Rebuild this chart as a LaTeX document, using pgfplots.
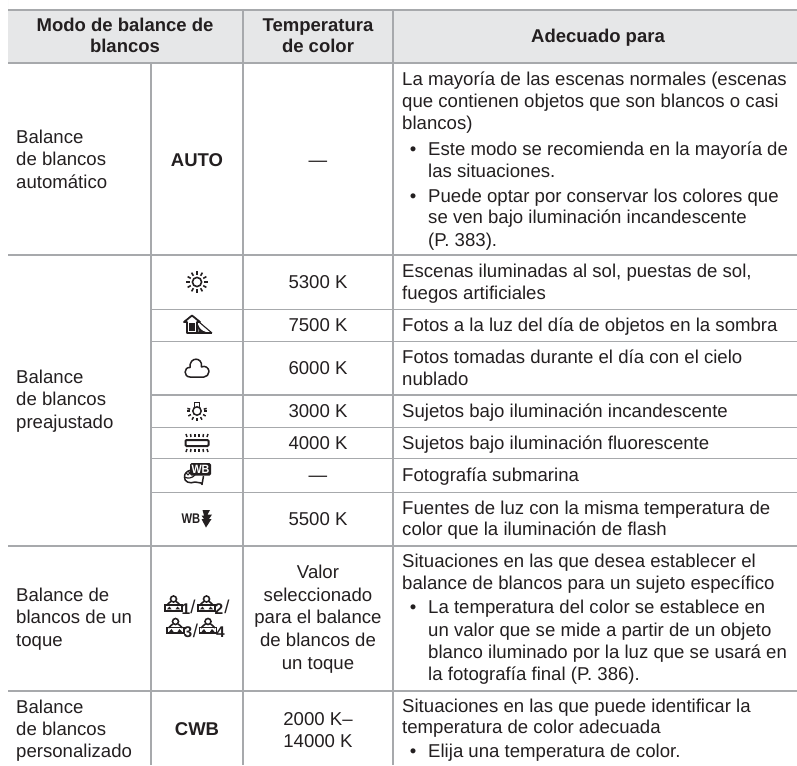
\documentclass[border=0pt]{standalone}
\usepackage{pgfplots}
\pgfplotsset{compat=1.18}
\usepackage{fontspec}
\setmainfont{Liberation Sans}
\definecolor{tx}{HTML}{231F20}
\definecolor{gl}{HTML}{A7A9AC}
\definecolor{hd}{HTML}{E6E7E8}
\newcommand\fn{\fontsize{18.6}{22}\selectfont}
\newcommand\fb{\fontsize{18.5}{22}\selectfont\bfseries}
\newcommand\TL[3]{\node[anchor=base west,inner sep=0pt,text=tx,font=\fn] at (axis cs:#1,#2) {#3};}
\newcommand\TC[3]{\node[anchor=base,inner sep=0pt,text=tx,font=\fn] at (axis cs:#1,#2) {#3};}
\newcommand\TB[3]{\node[anchor=base,inner sep=0pt,text=tx,font=\fb] at (axis cs:#1,#2) {#3};}
\newcommand\Bul[2]{\node[anchor=base,inner sep=0pt,text=tx,font=\fn] at (axis cs:413,#1) {•};\TL{428}{#1}{#2}}
\pgfplotsset{rule/.style={gl,line width=1.5pt,forget plot}}
\newcommand\OneTouch[3]{%
 \begin{scope}[shift={(axis cs:#1,#2)},x=1pt,y=-1pt]
  \draw[tx,line width=1.6pt] (0,-9.5) circle (3);
  \draw[tx,line width=1.6pt] (-7,-3) .. controls (-6,-6) and (-3,-5.5) .. (-2.5,-7);
  \draw[tx,line width=1.6pt] (7,-3) .. controls (6,-6) and (3,-5.5) .. (2.5,-7);
  \draw[tx,line width=1.7pt] (-8.5,-3.5) rectangle (8.5,2.2);
  \fill[tx] (-6.5,0.8) -- (-2,0.8) -- (-4,-2) -- cycle;
  \fill[tx] (6.5,0.8) -- (2,0.8) -- (4,-2) -- cycle;
  \node[inner sep=0pt,text=tx,font=\fontsize{15.5}{15.5}\selectfont\bfseries] at (12.5,1) {#3};
 \end{scope}}
\begin{document}
\begin{tikzpicture}
\useasboundingbox (0,0) rectangle (797pt,765pt);
\begin{axis}[scale only axis,width=797pt,height=765pt,xmin=0,xmax=797,ymin=0,ymax=765,
  y dir=reverse,axis lines=none,clip=false]
\addplot[draw=none,fill=hd,forget plot] coordinates {(8,10) (797,10) (797,63) (8,63)} \closedcycle;
% horizontal rules
\addplot[rule] coordinates {(8,10) (797,10)};
\addplot[rule] coordinates {(8,63) (797,63)};
\addplot[rule] coordinates {(8,255) (797,255)};
\addplot[rule,line width=1pt] coordinates {(151,309) (797,309)};
\addplot[rule,line width=1pt] coordinates {(151,341) (797,341)};
\addplot[rule] coordinates {(151,395) (797,395)};
\addplot[rule,line width=1pt] coordinates {(151,427) (797,427)};
\addplot[rule,line width=1pt] coordinates {(151,458) (797,458)};
\addplot[rule,line width=1pt] coordinates {(151,492) (797,492)};
\addplot[rule] coordinates {(8,546) (797,546)};
\addplot[rule] coordinates {(8,691) (797,691)};
% vertical rules
\addplot[rule] coordinates {(151,63) (151,765)};
\addplot[rule] coordinates {(243,10) (243,765)};
\addplot[rule] coordinates {(393,10) (393,765)};
% header
\TB{125}{32}{Modo de balance de}
\TB{125}{53}{blancos}
\TB{318}{32}{Temperatura}
\TB{318}{53}{de color}
\TB{598}{43}{Adecuado para}
% column 1
\TL{16}{143}{Balance}
\TL{16}{165.5}{de blancos}
\TL{16}{188}{automático}
\TL{16}{383}{Balance}
\TL{16}{405.5}{de blancos}
\TL{16}{428}{preajustado}
\TL{16}{601}{Balance de}
\TL{16}{623}{blancos de un}
\TL{16}{646}{toque}
\TL{16}{713}{Balance}
\TL{16}{735}{de blancos}
\TL{16}{757}{personalizado}
% column 2 text
\TB{197}{166}{AUTO}
\TB{197}{735}{CWB}
% column 3
\TC{318}{166}{—}
\TC{318}{288}{5300 K}
\TC{318}{331}{7500 K}
\TC{318}{374}{6000 K}
\TC{318}{417}{3000 K}
\TC{318}{449}{4000 K}
\TC{318}{481}{—}
\TC{318}{525}{5500 K}
\TC{318}{578}{Valor}
\TC{318}{601}{seleccionado}
\TC{318}{623.5}{para el balance}
\TC{318}{646.5}{de blancos de}
\TC{318}{669}{un toque}
\TC{318}{725}{2000 K–}
\TC{318}{747}{14000 K}
% column 4
\TL{402}{86}{La mayoría de las escenas normales (escenas}
\TL{402}{107.5}{que contienen objetos que son blancos o casi}
\TL{402}{129}{blancos)}
\Bul{155}{Este modo se recomienda en la mayoría de}
\TL{428}{177}{las situaciones.}
\Bul{202}{Puede optar por conservar los colores que}
\TL{428}{223}{se ven bajo iluminación incandescente}
\TL{428}{246}{(P. 383).}
\TL{402}{277}{Escenas iluminadas al sol, puestas de sol,}
\TL{402}{299}{fuegos artificiales}
\TL{402}{331}{Fotos a la luz del día de objetos en la sombra}
\TL{402}{363}{Fotos tomadas durante el día con el cielo}
\TL{402}{385}{nublado}
\TL{402}{417}{Sujetos bajo iluminación incandescente}
\TL{402}{449}{Sujetos bajo iluminación fluorescente}
\TL{402}{481}{Fotografía submarina}
\TL{402}{514}{Fuentes de luz con la misma temperatura de}
\TL{402}{535.5}{color que la iluminación de flash}
\TL{402}{567}{Situaciones en las que desea establecer el}
\TL{402}{589}{balance de blancos para un sujeto específico}
\Bul{613}{La temperatura del color se establece en}
\TL{428}{636}{un valor que se mide a partir de un objeto}
\TL{428}{658}{blanco iluminado por la luz que se usará en}
\TL{428}{680}{la fotografía final (P. 386).}
\TL{402}{712}{Situaciones en las que puede identificar la}
\TL{402}{733}{temperatura de color adecuada}
\Bul{757}{Elija una temperatura de color.}
% icons
\pgfplotsextra{
 % sun
 \begin{scope}[shift={(axis cs:197,282)},x=1pt,y=-1pt]
  \draw[tx,line width=1.6pt] (0,0) circle (4.6);
  \foreach \a in {0,30,...,330} \draw[tx,line width=1.6pt] (\a:7.2) -- (\a:10.8);
 \end{scope}
 % shade
 \begin{scope}[shift={(axis cs:197,325)},x=1pt,y=-1pt]
  \draw[tx,line width=1.8pt,line join=round] (-13,-3) -- (-5,-9.5) -- (3,-3) -- (0,-3) -- (0,8) -- (-10,8) -- (-10,-3) -- cycle;
  \fill[tx] (-8,-2) rectangle (-2,6);
  \foreach \d in {0,1.6,...,11} \draw[tx,line width=.8pt] (0,-2+\d) -- (4+\d,8);
  \draw[tx,line width=1.1pt] (0,8) -- (15,8);
  \draw[tx,line width=1.1pt] (2,-3) -- (15,8);
 \end{scope}
 % cloud
 \begin{scope}[shift={(axis cs:197,369)},x=1pt,y=-1pt]
  \draw[tx,line width=1.5pt,line join=round] (-7,8) .. controls (-13.5,8) and (-13.5,-2) .. (-7,-1.5)
    .. controls (-8,-12.5) and (6,-12.5) .. (4.5,-2)
    .. controls (8,-4) and (12,-1) .. (12,2.5)
    .. controls (12,5.5) and (9.5,8) .. (7,8) -- cycle;
 \end{scope}
 % tungsten
 \begin{scope}[shift={(axis cs:197,411)},x=1pt,y=-1pt]
  \draw[tx,line width=1.5pt] (0,0) circle (4.2);
  \draw[tx,line width=1.5pt] (-2.5,-4) -- (-2.5,-8.5) -- (2.5,-8.5) -- (2.5,-4);
  \foreach \a in {0,180,30,60,90,120,150,-15,195} \draw[tx,line width=1.5pt] (\a:7) -- (\a:10);
 \end{scope}
 % fluorescent
 \begin{scope}[shift={(axis cs:197,443)},x=1pt,y=-1pt]
  \draw[tx,line width=2pt,rounded corners=1pt] (-11.5,-3) rectangle (11.5,3);
  \foreach \x/\t in {-10/-2,-6/-1,-2/0,2/0,6/1,10/2} {
    \draw[tx,line width=1.5pt] (\x,-6) -- (\x+\t*.5,-9);
    \draw[tx,line width=1.5pt] (\x,6) -- (\x+\t*.5,9);}
 \end{scope}
 % underwater
 \begin{scope}[shift={(axis cs:197,474)},x=1pt,y=-1pt]
  \draw[tx,line width=1.5pt,line join=round] (-6,-4) .. controls (-9,-3) and (-13,-1) .. (-12.5,3)
     .. controls (-13,8) and (-7,10) .. (-2,8) -- (4,9) -- (5,10.5) -- (6.5,2);
  \draw[tx,line width=1.2pt] (-13,3) .. controls (-8,5) and (-5,4) .. (-2,1);
  \fill[white,draw=tx,line width=1.1pt] (-9,-1) circle (1.8);
  \fill[tx,rounded corners=1.5pt] (-7,-11) rectangle (14,1.5);
  \node[inner sep=0pt,text=white,font=\fontsize{12}{12}\selectfont\bfseries,xscale=.9] at (3.5,-4.7) {WB};
 \end{scope}
 % WB flash
 \begin{scope}[shift={(axis cs:197,519)},x=1pt,y=-1pt]
  \node[inner sep=0pt,text=tx,font=\fontsize{14}{14}\selectfont\bfseries,xscale=.8] at (-6,0) {WB};
  \fill[tx] (5.5,-9) -- (13,-9) -- (10.5,-4.5) -- (15,-4.5) -- (12,0) -- (14.5,0) -- (9,8.5) -- (4.5,0) -- (7,0) -- (4.5,-3.5) -- (7,-3.5) -- cycle;
 \end{scope}
}
\OneTouch{173.5}{608.5}{1}
\OneTouch{206.5}{608.5}{2}
\OneTouch{175.5}{631}{3}
\OneTouch{208}{631}{4}
\node[anchor=base,inner sep=0pt,text=tx,font=\fn] at (axis cs:193,613) {/};
\node[anchor=base,inner sep=0pt,text=tx,font=\fn] at (axis cs:227,613) {/};
\node[anchor=base,inner sep=0pt,text=tx,font=\fn] at (axis cs:195.5,637) {/};
\end{axis}
\end{tikzpicture}
\end{document}
